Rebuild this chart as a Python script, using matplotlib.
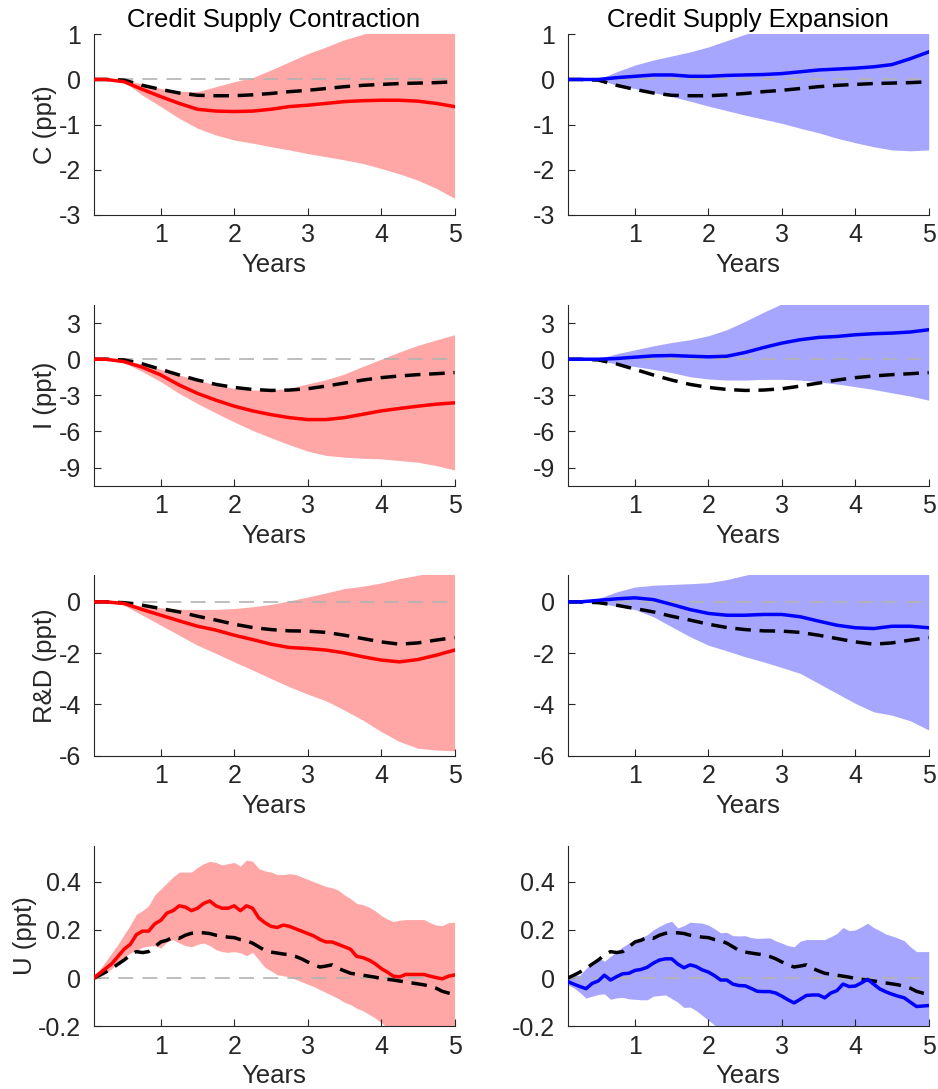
import numpy as np
import matplotlib
matplotlib.use("Agg")
import matplotlib.pyplot as plt

plt.rcParams['font.family'] = ['Liberation Sans', 'DejaVu Sans']

# --- x grids (months after the shock) ---
months_q = [1, 3, 6, 9, 12, 15, 18, 21, 24, 27, 30, 33, 36, 39, 42, 45, 48, 51, 54, 57, 60]
months_m = list(range(1, 61))

# --- C (ppt) ---
c_base = [0, 0, -0.015, -0.13, -0.22, -0.30, -0.35, -0.36, -0.36, -0.34, -0.31, -0.27, -0.24,
          -0.20, -0.16, -0.13, -0.11, -0.09, -0.08, -0.07, -0.05]
c_contr = [0, 0, -0.05, -0.22, -0.38, -0.53, -0.66, -0.70, -0.71, -0.70, -0.66, -0.60, -0.57,
           -0.53, -0.49, -0.47, -0.46, -0.46, -0.48, -0.53, -0.60]
c_contr_hi = [0, 0, -0.01, -0.10, -0.20, -0.26, -0.27, -0.16, -0.05, 0.04, 0.21, 0.39, 0.57,
              0.72, 0.88, 1.00, 1.15, 1.30, 1.45, 1.60, 1.75]
c_contr_lo = [0, 0, -0.05, -0.35, -0.60, -0.86, -1.08, -1.23, -1.34, -1.41, -1.49, -1.56, -1.64,
              -1.71, -1.78, -1.86, -1.97, -2.09, -2.23, -2.41, -2.63]
c_exp = [0, 0, 0, 0.04, 0.07, 0.10, 0.10, 0.07, 0.07, 0.09, 0.10, 0.11, 0.13,
         0.17, 0.21, 0.23, 0.25, 0.28, 0.33, 0.46, 0.61]
c_exp_hi = [0, 0, 0, 0.17, 0.32, 0.43, 0.52, 0.61, 0.72, 0.86, 1.00, 1.12, 1.25,
            1.35, 1.45, 1.55, 1.65, 1.75, 1.85, 1.95, 2.05]
c_exp_lo = [0, 0, 0, -0.13, -0.20, -0.29, -0.38, -0.48, -0.59, -0.69, -0.79, -0.88, -0.97,
            -1.08, -1.18, -1.30, -1.40, -1.49, -1.56, -1.58, -1.56]

# --- I (ppt) ---
i_base = [0, 0, -0.06, -0.39, -0.84, -1.31, -1.73, -2.09, -2.34, -2.51, -2.59, -2.56, -2.45,
          -2.23, -1.98, -1.73, -1.53, -1.39, -1.28, -1.20, -1.11]
i_contr = [0, 0, -0.20, -0.67, -1.31, -2.14, -2.84, -3.40, -3.90, -4.29, -4.60, -4.85, -5.01,
           -5.01, -4.85, -4.57, -4.29, -4.09, -3.90, -3.73, -3.62]
i_contr_hi = [0, 0, -0.14, -0.39, -0.84, -1.31, -1.73, -2.14, -2.42, -2.56, -2.56, -2.42, -2.05,
              -1.70, -1.23, -0.60, 0.0, 0.60, 1.15, 1.60, 2.03]
i_contr_lo = [0, 0, -0.28, -1.03, -1.87, -2.84, -3.68, -4.46, -5.21, -5.91, -6.52, -7.10, -7.63,
              -7.99, -8.13, -8.22, -8.27, -8.41, -8.55, -8.83, -9.19]
i_exp = [0, 0, 0, 0.06, 0.17, 0.28, 0.31, 0.25, 0.20, 0.25, 0.56, 0.97, 1.34,
         1.62, 1.81, 1.89, 2.03, 2.12, 2.17, 2.26, 2.45]
i_exp_hi = [0, 0, 0.06, 0.45, 0.78, 1.11, 1.39, 1.62, 1.95, 2.45, 3.15, 3.90, 4.60,
            5.00, 5.30, 5.50, 5.70, 5.90, 6.00, 6.10, 6.20]
i_exp_lo = [0, 0, -0.11, -0.39, -0.61, -0.84, -1.11, -1.45, -1.64, -1.73, -1.73, -1.67, -1.67,
            -1.73, -1.87, -2.06, -2.28, -2.51, -2.79, -3.06, -3.40]

# --- R&D (ppt) ---
rd_base = [0, 0, -0.03, -0.13, -0.26, -0.39, -0.56, -0.71, -0.87, -1.00, -1.08, -1.13, -1.14,
           -1.19, -1.30, -1.43, -1.56, -1.65, -1.60, -1.49, -1.39]
rd_contr = [0, 0, -0.06, -0.30, -0.52, -0.74, -0.95, -1.10, -1.30, -1.47, -1.65, -1.78, -1.82,
            -1.88, -1.99, -2.14, -2.27, -2.34, -2.25, -2.08, -1.88]
rd_contr_hi = [0, 0, -0.03, -0.17, -0.23, -0.29, -0.30, -0.29, -0.26, -0.19, -0.10, 0.04, 0.19,
               0.35, 0.52, 0.61, 0.74, 0.91, 1.04, 1.20, 1.30]
rd_contr_lo = [0, 0, -0.13, -0.52, -0.91, -1.30, -1.69, -2.01, -2.34, -2.66, -2.99, -3.31, -3.60,
               -3.86, -4.22, -4.61, -5.06, -5.45, -5.71, -5.78, -5.81]
rd_exp = [0, 0, 0.06, 0.12, 0.16, 0.09, -0.10, -0.30, -0.45, -0.52, -0.52, -0.49, -0.49,
          -0.58, -0.75, -0.91, -1.01, -1.04, -0.95, -0.95, -1.01]
rd_exp_hi = [0, 0, 0.13, 0.39, 0.58, 0.65, 0.68, 0.71, 0.75, 0.87, 1.04, 1.20, 1.30,
             1.40, 1.50, 1.60, 1.70, 1.80, 1.90, 2.00, 2.10]
rd_exp_lo = [0, 0, -0.04, -0.17, -0.30, -0.58, -0.97, -1.36, -1.69, -1.91, -2.14, -2.34, -2.56,
             -2.79, -3.18, -3.57, -3.96, -4.29, -4.42, -4.64, -5.00]

# --- U (ppt), monthly ---
u_base = [0.00, 0.012, 0.025, 0.04, 0.058, 0.075, 0.095, 0.11, 0.106, 0.11,
          0.13, 0.15, 0.157, 0.17, 0.165, 0.178, 0.186, 0.188, 0.188, 0.185,
          0.178, 0.174, 0.17, 0.168, 0.16, 0.155, 0.145, 0.13, 0.115, 0.108,
          0.104, 0.1, 0.097, 0.09, 0.08, 0.067, 0.055, 0.046, 0.05, 0.055,
          0.04, 0.03, 0.02, 0.016, 0.012, 0.008, 0.004, -0.002, -0.005, -0.008,
          -0.012, -0.016, -0.02, -0.024, -0.028, -0.034, -0.042, -0.055, -0.062, -0.068]
u_contr = [0.00, 0.02, 0.04, 0.06, 0.09, 0.12, 0.14, 0.18, 0.195, 0.195,
           0.225, 0.24, 0.27, 0.28, 0.30, 0.295, 0.28, 0.29, 0.31, 0.32,
           0.30, 0.29, 0.29, 0.30, 0.28, 0.30, 0.29, 0.25, 0.23, 0.215,
           0.21, 0.22, 0.215, 0.205, 0.195, 0.185, 0.175, 0.16, 0.15, 0.15,
           0.14, 0.13, 0.12, 0.09, 0.085, 0.075, 0.06, 0.04, 0.025, 0.008,
           0.005, 0.015, 0.015, 0.015, 0.015, 0.008, 0.002, -0.003, 0.008, 0.013]
u_contr_hi = [0.0, 0.035, 0.07, 0.105, 0.14, 0.18, 0.22, 0.265, 0.28, 0.30,
              0.345, 0.37, 0.395, 0.42, 0.44, 0.44, 0.44, 0.46, 0.475, 0.485,
              0.48, 0.47, 0.475, 0.48, 0.465, 0.49, 0.485, 0.455, 0.445, 0.44,
              0.43, 0.43, 0.433, 0.43, 0.42, 0.41, 0.40, 0.39, 0.38, 0.375,
              0.365, 0.345, 0.33, 0.31, 0.305, 0.295, 0.28, 0.26, 0.245, 0.235,
              0.24, 0.243, 0.243, 0.243, 0.243, 0.23, 0.22, 0.218, 0.23, 0.232]
u_contr_lo = [-0.01, 0.005, 0.02, 0.04, 0.065, 0.085, 0.104, 0.115, 0.128, 0.133,
              0.135, 0.125, 0.15, 0.16, 0.146, 0.135, 0.13, 0.14, 0.146, 0.135,
              0.118, 0.11, 0.107, 0.11, 0.105, 0.093, 0.107, 0.076, 0.045, 0.03,
              0.014, 0.01, 0.005, -0.005, -0.015, -0.025, -0.035, -0.048, -0.06, -0.072,
              -0.085, -0.1, -0.11, -0.125, -0.135, -0.15, -0.165, -0.185, -0.205, -0.22,
              -0.23, -0.24, -0.25, -0.26, -0.27, -0.28, -0.29, -0.30, -0.31, -0.32]
u_exp = [-0.014, -0.025, -0.035, -0.044, -0.022, -0.012, 0.012, -0.008, 0.006, 0.018,
         0.02, 0.032, 0.036, 0.045, 0.062, 0.075, 0.08, 0.08, 0.058, 0.043,
         0.055, 0.048, 0.034, 0.025, 0.01, -0.008, -0.008, -0.025, -0.031, -0.032,
         -0.043, -0.055, -0.056, -0.056, -0.062, -0.075, -0.09, -0.103, -0.088, -0.072,
         -0.07, -0.07, -0.082, -0.062, -0.052, -0.025, -0.035, -0.033, -0.02, -0.005,
         -0.025, -0.045, -0.057, -0.067, -0.075, -0.082, -0.1, -0.118, -0.116, -0.114]
u_exp_hi = [0.01, 0.012, 0.012, 0.04, 0.065, 0.085, 0.07, 0.09, 0.11, 0.13,
            0.145, 0.16, 0.168, 0.18, 0.2, 0.215, 0.228, 0.236, 0.208, 0.218,
            0.232, 0.23, 0.228, 0.22, 0.205, 0.188, 0.19, 0.176, 0.175, 0.176,
            0.168, 0.165, 0.166, 0.167, 0.155, 0.145, 0.135, 0.13, 0.153, 0.16,
            0.16, 0.16, 0.16, 0.172, 0.185, 0.21, 0.197, 0.2, 0.213, 0.228,
            0.21, 0.197, 0.183, 0.175, 0.166, 0.155, 0.13, 0.11, 0.11, 0.11]
u_exp_lo = [-0.028, -0.04, -0.06, -0.083, -0.075, -0.068, -0.065, -0.088, -0.082, -0.08,
            -0.086, -0.088, -0.09, -0.09, -0.075, -0.072, -0.07, -0.085, -0.1, -0.122,
            -0.12, -0.135, -0.155, -0.175, -0.195, -0.215, -0.225, -0.235, -0.24, -0.25,
            -0.255, -0.26, -0.27, -0.275, -0.28, -0.29, -0.295, -0.3, -0.305, -0.31,
            -0.315, -0.32, -0.325, -0.33, -0.33, -0.335, -0.34, -0.34, -0.345, -0.35,
            -0.35, -0.355, -0.36, -0.36, -0.365, -0.37, -0.37, -0.375, -0.38, -0.38]

ylabels = ['C (ppt)', 'I (ppt)', 'R&D (ppt)', 'U (ppt)']
ylims = [(-3, 1), (-10.5, 4.5), (-6, 1.05), (-0.2, 0.55)]
yticks = [[-3, -2, -1, 0, 1], [-9, -6, -3, 0, 3], [-6, -4, -2, 0], [-0.2, 0, 0.2, 0.4]]
ytick_labels = [['-3', '-2', '-1', '0', '1'], ['-9', '-6', '-3', '0', '3'],
                ['-6', '-4', '-2', '0'], ['-0.2', '0', '0.2', '0.4']]
titles = ['Credit Supply Contraction', 'Credit Supply Expansion']

# (months, base, line, hi, lo) for each row / column
panels = [
    [(months_q, c_base, c_contr, c_contr_hi, c_contr_lo), (months_q, c_base, c_exp, c_exp_hi, c_exp_lo)],
    [(months_q, i_base, i_contr, i_contr_hi, i_contr_lo), (months_q, i_base, i_exp, i_exp_hi, i_exp_lo)],
    [(months_q, rd_base, rd_contr, rd_contr_hi, rd_contr_lo), (months_q, rd_base, rd_exp, rd_exp_hi, rd_exp_lo)],
    [(months_m, u_base, u_contr, u_contr_hi, u_contr_lo), (months_m, u_base, u_exp, u_exp_hi, u_exp_lo)],
]

line_cols = ['#ff0000', '#0000ff']
band_cols = [(1, 0.65, 0.65), (0.65, 0.65, 1)]
axis_col = '#262626'

fig = plt.figure(figsize=(9.38, 10.89), dpi=100)

lefts = [0.0997, 0.6052]
bottoms = [0.8026, 0.5540, 0.3061, 0.0576]
w, h = 0.3849, 0.1659

for r in range(4):
    for c in range(2):
        ax = fig.add_axes([lefts[c], bottoms[r], w, h])
        mon, base, line, hi, lo = panels[r][c]
        x = np.array(mon) / 12.0

        # band, zero line, baseline response, shock response
        ax.fill_between(x, lo, hi, color=band_cols[c], linewidth=0, zorder=1)
        ax.plot([1 / 12, 5], [0, 0], color=(0.7, 0.7, 0.7), lw=1.2,
                dashes=(9, 5.5), zorder=2)
        ax.plot(x, base, color='k', lw=2.5, dashes=(4.5, 2.5), zorder=3)
        ax.plot(x, line, color=line_cols[c], lw=2.5, zorder=4)

        ax.set_xlim(1 / 12, 5)
        ax.set_ylim(*ylims[r])
        ax.set_xticks([1, 2, 3, 4, 5])
        ax.set_yticks(yticks[r])
        ax.set_yticklabels(ytick_labels[r])

        for s in ['top', 'right']:
            ax.spines[s].set_visible(False)
        for s in ['left', 'bottom']:
            ax.spines[s].set_color(axis_col)
            ax.spines[s].set_linewidth(0.8)
        ax.tick_params(direction='in', length=5, width=0.8, colors=axis_col,
                       labelsize=18, labelcolor=axis_col)
        ax.tick_params(axis='x', pad=6)
        ax.tick_params(axis='y', pad=9)

        ax.set_xlabel('Years', fontsize=18.5, color=axis_col, labelpad=4)
        if c == 0:
            ax.set_ylabel(ylabels[r], fontsize=18.5, color=axis_col, labelpad=1)
        if r == 0:
            ax.set_title(titles[c], fontsize=18.5, color='k', pad=5)

fig.savefig('out.png', dpi=100)
